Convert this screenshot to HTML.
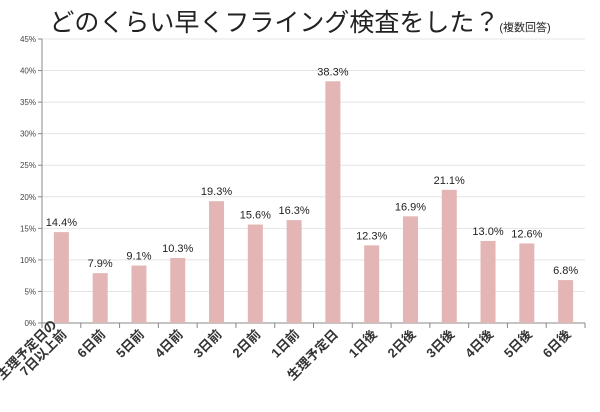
<!DOCTYPE html>
<html><head><meta charset="utf-8"><style>
body{margin:0;background:#fff;width:600px;height:407px;overflow:hidden}
text{font-family:"Liberation Sans","Noto Sans CJK JP",sans-serif}
</style></head><body>
<svg id="chart" width="600" height="407">
<text x="300" y="31" text-anchor="middle" font-size="25" fill="#222">どのくらい早くフライング検査をした？<tspan font-size="11">(複数回答)</tspan></text>
<g id="g"></g>
</svg>
<script>
const categories=["生理予定日の\n7日以上前","6日前","5日前","4日前","3日前","2日前","1日前","生理予定日","1日後","2日後","3日後","4日後","5日後","6日後"];
const values=[14.4,7.9,9.1,10.3,19.3,15.6,16.3,38.3,12.3,16.9,21.1,13.0,12.6,6.8];
const ticks=[0,5,10,15,20,25,30,35,40,45];
const g=document.getElementById('g');
const NS='http://www.w3.org/2000/svg';
const x0=42,x1=585,y0=323,yTop=39,maxV=45;
const bw=(x1-x0)/categories.length;
const y=v=>y0-(v/maxV)*(y0-yTop);
const xc=i=>x0+bw*(i+0.5);
function el(t,a){const e=document.createElementNS(NS,t);for(const k in a)e.setAttribute(k,a[k]);g.appendChild(e);return e;}
ticks.forEach(t=>{
 const l=el('line',{x1:x0,x2:x1,y1:y(t),y2:y(t),stroke:t===0?'#888':'#e4e4e4','stroke-width':1});
 
 
 const tx=el('text',{x:x0-6,y:y(t)+3,'text-anchor':'end','font-size':8,fill:'#444'});
 tx.textContent=t+'%';
 
 
 const tk=el('line',{x1:x0-4,x2:x0,y1:y(t),y2:y(t),stroke:'#888'});
 
 
});
const ax=el('line',{x1:x0,x2:x0,y1:yTop,y2:y0,stroke:'#888'});


for(let i=0;i<=categories.length;i++){
 const t=el('line',{x1:x0+bw*i,x2:x0+bw*i,y1:y0,y2:y0+5,stroke:'#888'});
 
 
}
values.forEach((v,i)=>{
 const r=el('rect',{x:xc(i)-7.5,y:y(v),width:15,height:y0-y(v),fill:'#e3b5b5'});
 
 
 const t=el('text',{x:xc(i),y:y(v)-6,'text-anchor':'middle','font-size':11,fill:'#222'});
 t.textContent=v.toFixed(1)+'%';
 
 
 const lines=categories[i].split('\n');
 lines.forEach((s,j)=>{
  const off=(j-(lines.length-1))*14;
  const lx=xc(i)+6+off*0.7, ly=y0+12+off*0.7;
  const c=el('text',{x:lx,y:ly,'text-anchor':'end','font-size':13,'font-weight':'bold',fill:'#333',transform:`rotate(-45 ${lx} ${ly})`});
  c.textContent=s;
  
  
 });
});
</script>
</body></html>
